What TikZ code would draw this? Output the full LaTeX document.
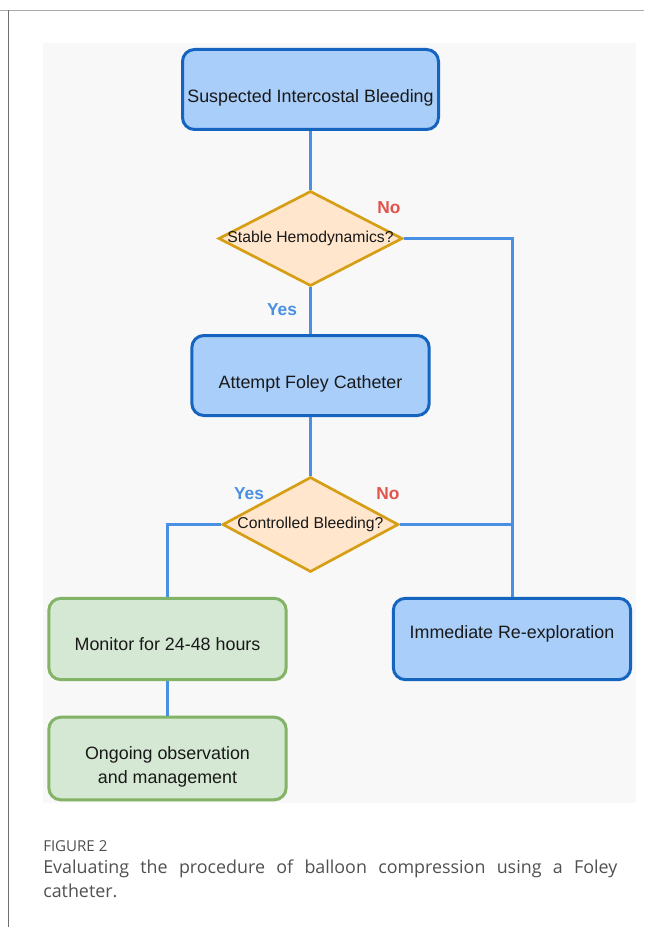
\documentclass[tikz,border=0pt]{standalone}
\usepackage{fontspec}
\setmainfont{Liberation Sans}
\newfontfamily\capfont{Open Sans}
\usetikzlibrary{shapes.geometric}

\begin{document}
\begin{tikzpicture}[x=0.75pt,y=0.75pt,yscale=-1,xscale=1,
  stepbox/.style={draw={rgb, 255:red, 21; green, 101; blue, 192}, fill={rgb, 255:red, 169; green, 206; blue, 250}, line width=2.25pt, rounded corners=9pt, minimum width=178pt, minimum height=61pt, inner sep=0.75pt, align=center, font=\fontsize{13.4}{18}\selectfont, text={rgb, 255:red, 25; green, 25; blue, 25}},
  endbox/.style={stepbox, draw={rgb, 255:red, 130; green, 179; blue, 102}, fill={rgb, 255:red, 213; green, 232; blue, 212}},
  lowtext/.style={text height=22pt, text depth=3pt},
  hightext/.style={text height=9.5pt, text depth=10pt},
  query/.style={diamond, draw={rgb, 255:red, 214; green, 158; blue, 20}, fill={rgb, 255:red, 255; green, 230; blue, 204}, line width=2pt, aspect=1.94, inner xsep=-12pt, inner ysep=0pt, minimum height=71.25pt, font=\fontsize{11.8}{14}\selectfont, text={rgb, 255:red, 25; green, 25; blue, 25}},
  link/.style={draw={rgb, 255:red, 74; green, 144; blue, 226}, line width=2.25pt},
  yesmark/.style={inner sep=0.75pt, font=\fontsize{13}{15}\selectfont\bfseries, text={rgb, 255:red, 74; green, 144; blue, 226}},
  nomark/.style={yesmark, text={rgb, 255:red, 226; green, 83; blue, 75}}
]
\useasboundingbox (0,0) rectangle (644,927);

%Page frame
\draw [color={rgb, 255:red, 170; green, 170; blue, 170 }] (0,10) -- (644,10) ;
\draw [color={rgb, 255:red, 110; green, 110; blue, 110 }] (8,10) -- (8,927) ;
%Shape: Rectangle (figure background)
\fill [color={rgb, 255:red, 248; green, 248; blue, 248 }] (43,43) rectangle (636,803) ;

%Rounded Rect
\node [stepbox, lowtext, minimum width=192pt, minimum height=60pt] (susp) at (310.5,89.5) {Suspected Intercostal Bleeding};
%Shape: Diamond
\node [query, minimum width=138pt] (stable) at (310.5,238.5) {Stable Hemodynamics?};
%Rounded Rect
\node [stepbox, lowtext, minimum height=60pt] (foley) at (310.5,375.5) {Attempt Foley Catheter};
%Shape: Diamond
\node [query, minimum width=132pt] (ctrl) at (310.5,524.5) {Controlled Bleeding?};
%Rounded Rect
\node [endbox, text height=20pt, text depth=3pt] (monitor) at (167.5,639) {Monitor for 24-48 hours};
%Rounded Rect
\node [stepbox, hightext] (immed) at (512,639) {Immediate Re-exploration};
%Rounded Rect
\node [endbox, minimum height=62pt, text height=40pt] (ongoing) at (167.5,758.5) {Ongoing observation\\and management};

%Straight Lines
\draw [link] (susp.south) -- (stable.north) ;
\draw [link] (stable.south) -- (foley.north) ;
\draw [link] (stable.east) -| (immed.north) ;
\draw [link] (foley.south) -- (ctrl.north) ;
\draw [link] (ctrl.east) -- (ctrl.east -| immed.north) ;
\draw [link] (ctrl.west) -| (monitor.north) ;
\draw [link] (monitor.south) -- (ongoing.north) ;

% Text Node
\node [nomark] (no1) at (389,208) {No};
% Text Node
\node [yesmark] (yes1) at (282,310) {Yes};
% Text Node
\node [yesmark] (yes2) at (249,494) {Yes};
% Text Node
\node [nomark] (no2) at (388,494) {No};

% Text Node
\node [anchor=west, inner sep=0pt, font=\capfont\fontsize{11.3}{14}\selectfont, text={rgb, 255:red, 80; green, 80; blue, 80}] (fignum) at (43,846) {FIGURE 2};
% Text Node
\node [anchor=north west, inner sep=0pt, text width=430.5pt, align=justify, font=\capfont\fontsize{13.4}{18}\selectfont, text={rgb, 255:red, 80; green, 80; blue, 80}] (figcap) at (43,859.5) {Evaluating the procedure of balloon compression using a Foley\linebreak catheter.};

\end{tikzpicture}
\end{document}
